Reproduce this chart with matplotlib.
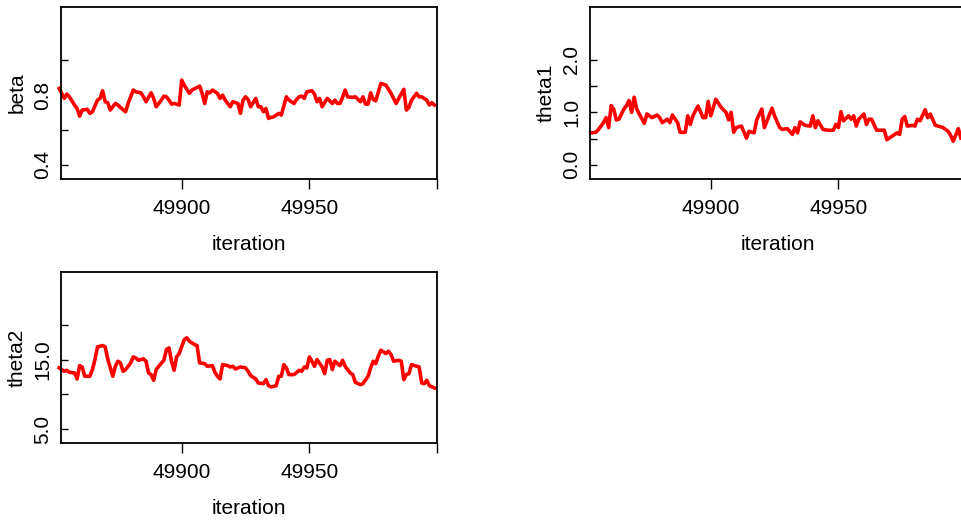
import matplotlib
matplotlib.use("Agg")
import matplotlib.pyplot as plt
import numpy as np

plt.rcParams['font.family'] = ['Liberation Sans', 'DejaVu Sans']

# ---------------- data ----------------
beta_iter = [49852, 49854, 49855, 49856, 49858, 49859, 49860, 49861, 49863, 49864,
             49865, 49867, 49868, 49869, 49870, 49871, 49872, 49874, 49875, 49876,
             49878, 49879, 49881, 49882, 49884, 49885, 49886, 49888, 49889, 49890,
             49892, 49893, 49894, 49895, 49896, 49897, 49899, 49900, 49901, 49903,
             49904, 49906, 49907, 49908, 49909, 49910, 49911, 49912, 49914, 49915,
             49916, 49917, 49919, 49920, 49922, 49923, 49924, 49925, 49926, 49927,
             49929, 49930, 49931, 49932, 49933, 49934, 49935, 49936, 49938, 49939,
             49941, 49942, 49944, 49945, 49946, 49947, 49948, 49949, 49951, 49952,
             49953, 49954, 49955, 49957, 49959, 49960, 49961, 49962, 49963, 49964,
             49965, 49967, 49968, 49970, 49971, 49972, 49973, 49974, 49975, 49976,
             49978, 49980, 49981, 49982, 49984, 49985, 49987, 49988, 49989, 49990,
             49992, 49993, 49994, 49996, 49997, 49998, 49999]
beta = [0.838, 0.781, 0.806, 0.790, 0.743, 0.723, 0.679, 0.714, 0.718, 0.695,
        0.704, 0.771, 0.781, 0.825, 0.762, 0.756, 0.714, 0.752, 0.743, 0.729,
        0.704, 0.752, 0.829, 0.819, 0.813, 0.790, 0.762, 0.813, 0.781, 0.733,
        0.771, 0.794, 0.790, 0.771, 0.748, 0.752, 0.743, 0.886, 0.857, 0.810,
        0.829, 0.844, 0.852, 0.810, 0.752, 0.819, 0.813, 0.829, 0.810, 0.781,
        0.800, 0.771, 0.733, 0.762, 0.752, 0.695, 0.771, 0.790, 0.775, 0.733,
        0.781, 0.733, 0.733, 0.704, 0.723, 0.666, 0.672, 0.675, 0.695, 0.685,
        0.790, 0.771, 0.752, 0.775, 0.790, 0.794, 0.781, 0.819, 0.825, 0.806,
        0.762, 0.781, 0.733, 0.781, 0.752, 0.771, 0.752, 0.752, 0.787, 0.829,
        0.790, 0.787, 0.790, 0.762, 0.790, 0.748, 0.748, 0.813, 0.775, 0.767,
        0.867, 0.857, 0.833, 0.810, 0.752, 0.781, 0.833, 0.714, 0.729, 0.771,
        0.810, 0.790, 0.790, 0.771, 0.743, 0.756, 0.743]

theta1_iter = [49853, 49855, 49856, 49858, 49859, 49860, 49861, 49862, 49863, 49864,
               49866, 49867, 49868, 49869, 49870, 49871, 49872, 49874, 49875, 49877,
               49879, 49880, 49881, 49883, 49884, 49885, 49887, 49888, 49890, 49891,
               49892, 49893, 49895, 49897, 49898, 49899, 49900, 49902, 49904, 49906,
               49907, 49908, 49909, 49910, 49912, 49914, 49915, 49917, 49918, 49920,
               49921, 49924, 49925, 49927, 49928, 49930, 49932, 49933, 49934, 49935,
               49937, 49939, 49940, 49941, 49942, 49944, 49946, 49948, 49949, 49950,
               49951, 49952, 49954, 49955, 49956, 49957, 49958, 49960, 49961, 49962,
               49963, 49965, 49966, 49968, 49969, 49971, 49973, 49974, 49975, 49976,
               49977, 49979, 49980, 49981, 49982, 49984, 49985, 49986, 49988, 49990,
               49991, 49993, 49994, 49995, 49997, 49998]
theta1 = [0.61, 0.62, 0.675, 0.805, 0.90, 0.71, 1.13, 1.06, 0.857, 0.87,
          1.065, 1.13, 1.227, 1.0, 1.29, 1.065, 0.97, 0.79, 0.97, 0.90,
          0.95, 0.90, 0.805, 0.87, 0.805, 0.95, 0.805, 0.62, 0.62, 0.935,
          0.77, 0.935, 1.12, 0.90, 0.90, 1.21, 0.935, 1.25, 1.10, 1.0,
          0.857, 1.0, 0.62, 0.71, 0.74, 0.51, 0.64, 0.61, 0.857, 1.065,
          0.71, 1.08, 0.935, 0.71, 0.675, 0.69, 0.58, 0.71, 0.61, 0.82,
          0.753, 0.74, 0.935, 0.71, 0.84, 0.675, 0.66, 0.66, 0.77, 0.71,
          1.013, 0.84, 0.935, 0.87, 0.935, 0.74, 0.87, 0.97, 0.77, 0.87,
          0.87, 0.66, 0.66, 0.66, 0.48, 0.545, 0.61, 0.58, 0.87, 0.92,
          0.74, 0.753, 0.74, 0.87, 0.84, 1.05, 0.90, 0.97, 0.753, 0.727,
          0.71, 0.64, 0.56, 0.45, 0.69, 0.51]

theta2_iter = [49852, 49854, 49855, 49856, 49858, 49859, 49860, 49861, 49862, 49864,
               49865, 49866, 49867, 49869, 49870, 49871, 49873, 49874, 49875, 49876,
               49877, 49878, 49880, 49881, 49882, 49883, 49885, 49886, 49887, 49888,
               49889, 49890, 49891, 49893, 49894, 49895, 49896, 49897, 49898, 49899,
               49901, 49902, 49903, 49905, 49906, 49907, 49909, 49910, 49912, 49913,
               49914, 49915, 49916, 49918, 49919, 49920, 49921, 49923, 49925, 49926,
               49927, 49929, 49930, 49932, 49933, 49934, 49935, 49936, 49937, 49938,
               49939, 49940, 49941, 49942, 49944, 49946, 49947, 49948, 49949, 49950,
               49951, 49952, 49953, 49955, 49956, 49957, 49958, 49959, 49960, 49962,
               49963, 49964, 49966, 49967, 49968, 49970, 49971, 49973, 49974, 49975,
               49976, 49977, 49978, 49980, 49981, 49982, 49983, 49985, 49986, 49987,
               49988, 49989, 49990, 49992, 49993, 49994, 49995, 49996, 49997, 49999]
theta2 = [13.8, 13.32, 13.46, 13.17, 13.08, 12.21, 14.13, 13.94, 12.6, 12.6,
          13.56, 15.0, 16.83, 17.02, 16.83, 15.1, 12.6, 14.04, 14.76, 14.52,
          13.32, 13.56, 14.52, 15.38, 15.24, 14.9, 15.1, 14.76, 13.08, 12.84,
          12.02, 13.56, 14.04, 14.9, 16.44, 16.68, 14.76, 13.46, 15.38, 15.87,
          17.88, 18.13, 17.64, 17.16, 17.02, 14.52, 14.42, 14.04, 14.13, 13.17,
          12.6, 12.21, 14.28, 14.13, 13.94, 14.04, 13.65, 13.94, 13.8, 13.32,
          12.69, 12.21, 11.63, 11.54, 12.12, 11.25, 11.06, 11.15, 11.25, 12.6,
          12.6, 14.28, 13.8, 12.84, 12.84, 13.46, 13.32, 13.94, 13.8, 15.38,
          14.76, 14.04, 15.0, 13.94, 12.98, 14.9, 15.0, 13.56, 14.76, 14.13,
          14.9, 14.04, 13.08, 12.84, 11.73, 11.39, 11.54, 12.6, 13.8, 14.76,
          14.42, 15.48, 16.35, 15.87, 16.2, 15.72, 14.76, 14.9, 14.76, 12.12,
          12.84, 12.98, 14.28, 14.04, 13.94, 11.63, 11.54, 12.02, 11.25, 10.91]

x_ticks = [49900, 49950, 50000]
x_ticklabels = ["49900", "49950", ""]

beta_ticks = [0.4, 0.6, 0.8, 1.0]
beta_ticklabels = ["0.4", "", "0.8", ""]
theta1_ticks = [0.0, 0.5, 1.0, 1.5, 2.0]
theta1_ticklabels = ["0.0", "", "1.0", "", "2.0"]
theta2_ticks = [5, 10, 15, 20]
theta2_ticklabels = ["5.0", "", "15.0", ""]

# ---------------- figure ----------------
W, H = 961, 521
fig = plt.figure(figsize=(W / 100, H / 100), dpi=100)

def ax_rect(left, top, right, bottom):
    return [left / W, 1 - bottom / H, (right - left) / W, (bottom - top) / H]

XLIM = (49852.7, 49999.8)

def style(ax, name, yticks, yticklabels, ylim):
    ax.set_xlim(*XLIM)
    ax.set_ylim(*ylim)
    ax.set_xticks(x_ticks)
    ax.set_xticklabels(x_ticklabels)
    ax.set_yticks(yticks)
    ax.set_yticklabels(yticklabels, rotation=90, va='center')
    ax.tick_params(axis='x', direction='out', length=7.2, width=1.0,
                   labelsize=15, pad=7.5)
    ax.tick_params(axis='y', direction='in', length=5.0, width=1.0,
                   labelsize=15, pad=6.5)
    for sp in ax.spines.values():
        sp.set_linewidth(1.3)
    ax.set_xlabel("iteration", fontsize=15, labelpad=12)
    ax.set_ylabel(name, fontsize=15, labelpad=4.5)

ax1 = fig.add_axes(ax_rect(61, 7, 437, 179))
ax1.plot(beta_iter, beta, color='#ff0000', lw=2.6, clip_on=False,
         solid_joinstyle='round')
style(ax1, "beta", beta_ticks, beta_ticklabels, (0.318, 1.306))

ax2 = fig.add_axes(ax_rect(590, 7, 966, 179))
ax2.plot(theta1_iter, theta1, color='#ff0000', lw=2.6, clip_on=False,
         solid_joinstyle='round')
style(ax2, "theta1", theta1_ticks, theta1_ticklabels, (-0.27, 3.01))

ax3 = fig.add_axes(ax_rect(61, 272, 437, 443))
ax3.plot(theta2_iter, theta2, color='#ff0000', lw=2.6, clip_on=False,
         solid_joinstyle='round')
style(ax3, "theta2", theta2_ticks, theta2_ticklabels, (3.0, 27.6))

fig.savefig("out.png", dpi=100)
